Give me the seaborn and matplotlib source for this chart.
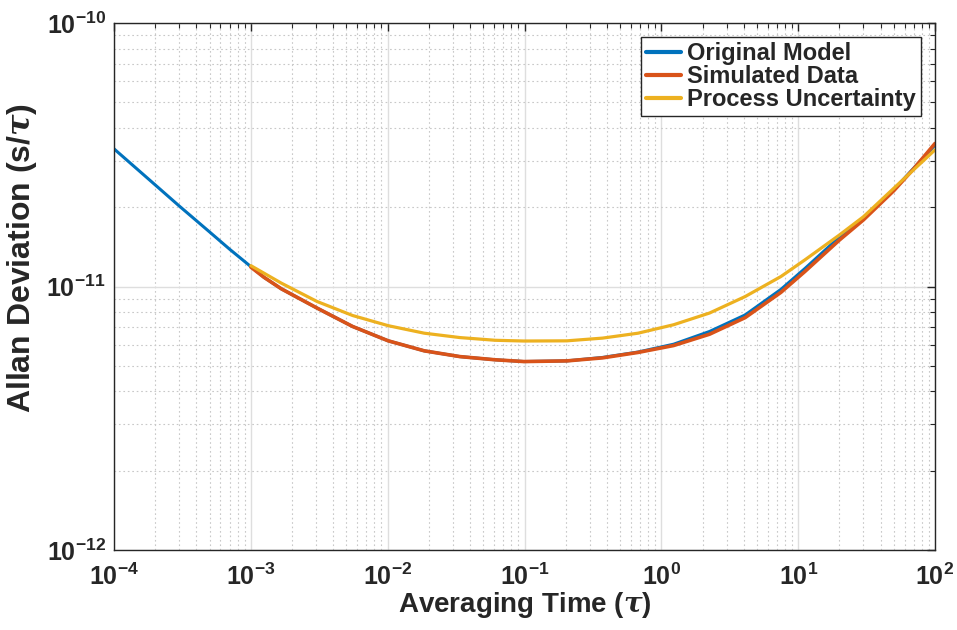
import matplotlib
matplotlib.use("Agg")
import matplotlib.pyplot as plt
import matplotlib.ticker as mticker
import seaborn as sns
import pandas as pd
import numpy as np

# ---- data ----
tau_model = [1e-4, 2e-4, 3e-4, 5e-4, 7e-4, 1e-3, 1.25e-3, 1.67e-3, 3.05e-3, 5.55e-3, 1.01e-2, 1.85e-2, 3.37e-2,
             6.12e-2, 9.91e-2, 0.204, 0.372, 0.676, 1.23, 2.25, 4.10, 7.48, 11.2, 20.0, 30.0, 50.0, 100.0]
adev_model = [3.33e-11, 2.43e-11, 2.02e-11, 1.61e-11, 1.385e-11, 1.19e-11, 1.083e-11, 9.80e-12, 8.28e-12, 7.05e-12,
              6.22e-12, 5.70e-12, 5.42e-12, 5.27e-12, 5.19e-12, 5.22e-12, 5.38e-12, 5.64e-12, 6.04e-12,
              6.75e-12, 7.80e-12, 9.75e-12, 1.17e-11, 1.54e-11, 1.81e-11, 2.33e-11, 3.44e-11]

tau_sim = [1e-3, 1.25e-3, 1.67e-3, 3.05e-3, 5.55e-3, 1.01e-2, 1.85e-2, 3.37e-2, 6.12e-2, 9.91e-2, 0.204, 0.372,
           0.676, 1.23, 2.25, 4.10, 7.48, 11.2, 20.0, 30.0, 50.0, 70.0, 100.0]
adev_sim = [1.185e-11, 1.083e-11, 9.80e-12, 8.28e-12, 7.05e-12, 6.22e-12, 5.70e-12, 5.42e-12, 5.27e-12, 5.19e-12,
            5.22e-12, 5.36e-12, 5.62e-12, 5.97e-12, 6.59e-12, 7.62e-12, 9.50e-12, 1.140e-11, 1.50e-11,
            1.79e-11, 2.31e-11, 2.80e-11, 3.49e-11]

tau_unc = [1e-3, 1.67e-3, 3.05e-3, 5.55e-3, 1.01e-2, 1.85e-2, 3.37e-2, 6.12e-2, 9.91e-2, 0.204, 0.372,
           0.676, 1.23, 2.25, 4.10, 7.48, 11.2, 20.0, 30.0, 50.0, 100.0]
adev_unc = [1.20e-11, 1.03e-11, 8.77e-12, 7.76e-12, 7.10e-12, 6.65e-12, 6.40e-12, 6.25e-12, 6.21e-12,
            6.22e-12, 6.37e-12, 6.65e-12, 7.16e-12, 7.93e-12, 9.16e-12, 1.091e-11, 1.262e-11, 1.568e-11,
            1.84e-11, 2.36e-11, 3.30e-11]

series_names = ["Original Model", "Simulated Data", "Process Uncertainty"]
x_label = r"Averaging Time ($\tau$)"
y_label = r"Allan Deviation (s/$\tau$)"

colors = {"Original Model": "#0072BD", "Simulated Data": "#D95319", "Process Uncertainty": "#EDB120"}

df = pd.concat([
    pd.DataFrame({"tau": tau_model, "adev": adev_model, "series": series_names[0]}),
    pd.DataFrame({"tau": tau_sim, "adev": adev_sim, "series": series_names[1]}),
    pd.DataFrame({"tau": tau_unc, "adev": adev_unc, "series": series_names[2]}),
], ignore_index=True)

sns.set_theme(style="white")
plt.rcParams["font.family"] = ["Liberation Sans", "DejaVu Sans"]
plt.rcParams["font.weight"] = "bold"
plt.rcParams["mathtext.fontset"] = "custom"
plt.rcParams["mathtext.rm"] = "Liberation Sans:bold"
plt.rcParams["mathtext.bf"] = "Liberation Sans:bold"
plt.rcParams["mathtext.it"] = "DejaVu Serif:italic"

fig = plt.figure(figsize=(9.57, 6.30), dpi=100)
ax = fig.add_axes([114/957, 1-550/630, (935-114)/957, (550-23)/630])

lw = {"Original Model": 2.2, "Simulated Data": 2.6, "Process Uncertainty": 2.3}
for name in series_names:
    sub = df[df["series"] == name]
    sns.lineplot(data=sub, x="tau", y="adev", ax=ax, color=colors[name],
                 linewidth=lw[name], label=name, sort=True, estimator=None)

ax.set_xscale("log")
ax.set_yscale("log")
ax.set_xlim(1e-4, 1e2)
ax.set_ylim(1e-12, 1e-10)

def fmt(v, pos):
    e = int(round(np.log10(v)))
    return r"$\mathbf{10^{%d}}$" % e

ax.xaxis.set_major_locator(mticker.LogLocator(base=10, numticks=20))
ax.yaxis.set_major_locator(mticker.LogLocator(base=10, numticks=20))
ax.xaxis.set_minor_locator(mticker.LogLocator(base=10, subs=np.arange(2, 10), numticks=20))
ax.yaxis.set_minor_locator(mticker.LogLocator(base=10, subs=np.arange(2, 10), numticks=20))
ax.xaxis.set_major_formatter(mticker.FuncFormatter(fmt))
ax.yaxis.set_major_formatter(mticker.FuncFormatter(fmt))
ax.xaxis.set_minor_formatter(mticker.NullFormatter())
ax.yaxis.set_minor_formatter(mticker.NullFormatter())

ax.grid(True, which="major", color="#dedede", linestyle="-", linewidth=1.0)
ax.grid(True, which="minor", color="#c8c8c8", linestyle=(0, (1.5, 2.5)), linewidth=0.8)
ax.set_axisbelow(True)

ax.tick_params(which="both", direction="in", top=True, right=True, colors="#262626", labelsize=18)
ax.tick_params(which="major", length=6, width=1.0)
ax.tick_params(which="minor", length=3.5, width=0.8)
ax.tick_params(axis="x", pad=10)
ax.tick_params(axis="y", pad=6)
for s in ax.spines.values():
    s.set_color("#262626")
    s.set_linewidth(1.0)

ax.set_xlabel(x_label, fontsize=20, fontweight="bold", color="#262626", labelpad=0)
ax.set_ylabel(y_label, fontsize=23, fontweight="bold", color="#262626")
ax.yaxis.set_label_coords(-0.091, 0.554)

leg = ax.legend(loc="upper right", fontsize=17, frameon=True, fancybox=False,
                edgecolor="#262626", framealpha=1, handlelength=1.5, handletextpad=0.25,
                labelspacing=0.0, borderpad=0.2, borderaxespad=0.6)
leg.get_frame().set_linewidth(1.0)
for t in leg.get_texts():
    t.set_fontweight("bold")
for h in leg.get_lines():
    h.set_linewidth(3)

fig.savefig("out.png", dpi=100)
